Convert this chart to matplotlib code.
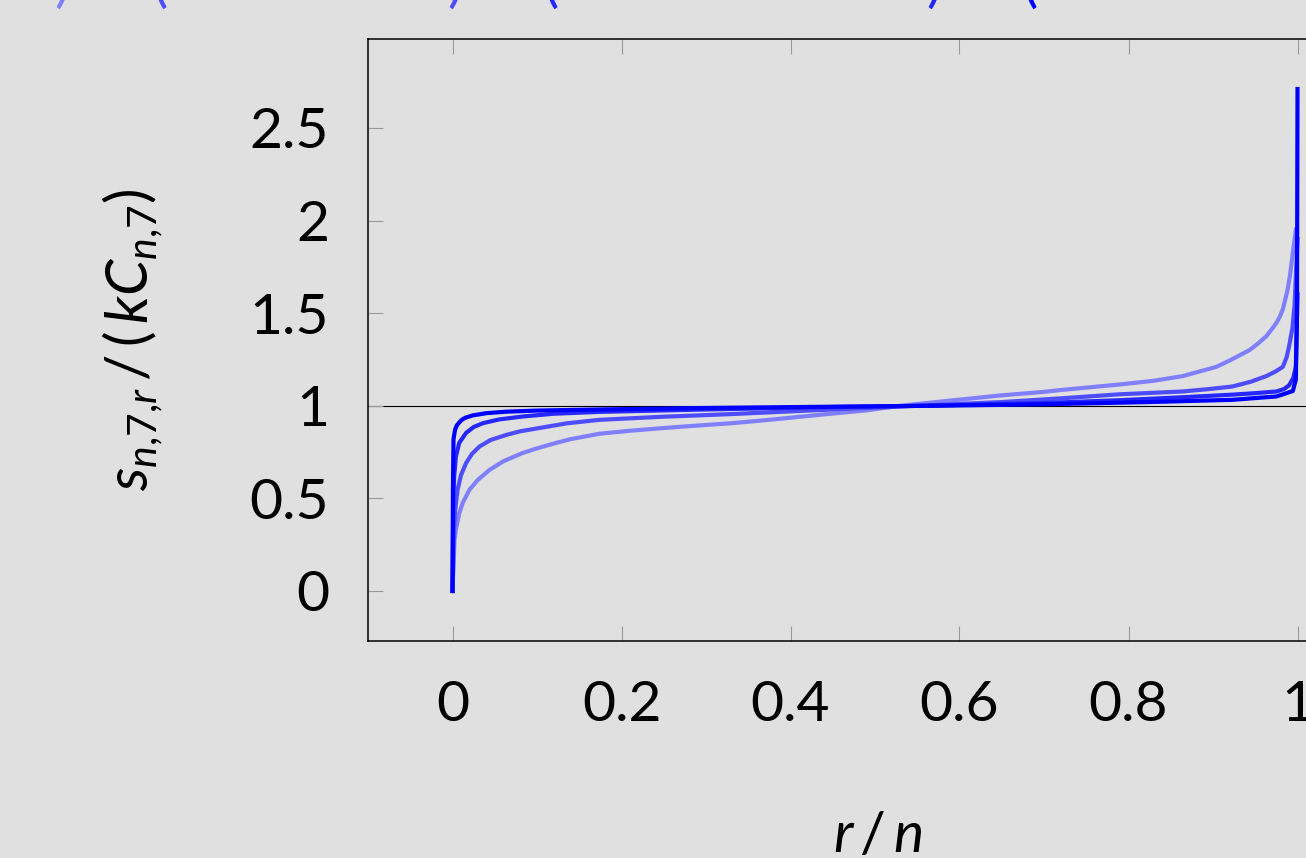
import matplotlib
matplotlib.use("Agg")
import matplotlib.pyplot as plt

plt.rcParams['font.family'] = ['Lato', 'DejaVu Sans']
plt.rcParams['mathtext.fontset'] = 'custom'
plt.rcParams['mathtext.rm'] = 'Lato'
plt.rcParams['mathtext.it'] = 'Lato:italic'

# curves, lightest to darkest
x1 = [0.0, 0.0024, 0.004, 0.008, 0.012, 0.02, 0.03, 0.044, 0.06, 0.083, 0.1, 0.123, 0.14,
      0.174, 0.21, 0.245, 0.28, 0.331, 0.37, 0.41, 0.45, 0.49, 0.53, 0.6, 0.647, 0.7,
      0.72, 0.79, 0.83, 0.864, 0.88, 0.904, 0.92, 0.943, 0.953, 0.963, 0.969, 0.975,
      0.979, 0.9826, 0.988, 0.991, 0.9945, 0.998]
y1 = [0.0, 0.276, 0.33, 0.42, 0.475, 0.546, 0.6, 0.654, 0.7, 0.745, 0.77, 0.8, 0.82,
      0.849, 0.865, 0.878, 0.89, 0.906, 0.922, 0.94, 0.958, 0.975, 1.0, 1.033, 1.055, 1.075,
      1.085, 1.115, 1.135, 1.16, 1.18, 1.21, 1.245, 1.30, 1.335, 1.375, 1.41, 1.447,
      1.48, 1.52, 1.62, 1.7, 1.825, 1.95]

x2 = [0.0, 0.002, 0.003, 0.006, 0.01, 0.016, 0.023, 0.032, 0.045, 0.064, 0.08, 0.103,
      0.135, 0.174, 0.245, 0.33, 0.45, 0.55, 0.65, 0.72, 0.79, 0.864, 0.895, 0.923, 0.945,
      0.963, 0.974, 0.9826, 0.987, 0.99, 0.994, 0.9965, 1.0]
y2 = [0.0, 0.35, 0.43, 0.546, 0.625, 0.69, 0.74, 0.78, 0.815, 0.843, 0.862, 0.88,
      0.905, 0.924, 0.94, 0.955, 0.98, 1.0, 1.02, 1.04, 1.062, 1.077, 1.09, 1.104, 1.13,
      1.16, 1.185, 1.21, 1.26, 1.32, 1.42, 1.54, 1.9]

x3 = [0.0, 0.001, 0.002, 0.004, 0.008, 0.016, 0.025, 0.036, 0.055, 0.083, 0.12, 0.174,
      0.3, 0.45, 0.56, 0.7, 0.79, 0.86, 0.923, 0.95, 0.975, 0.984, 0.99, 0.995, 0.998, 1.0]
y3 = [0.0, 0.5, 0.62, 0.726, 0.8, 0.853, 0.885, 0.906, 0.926, 0.942, 0.957, 0.967,
      0.98, 0.993, 1.0, 1.015, 1.03, 1.045, 1.06, 1.068, 1.077, 1.09, 1.11, 1.15, 1.21, 1.6]

x4 = [0.0, 0.0005, 0.0012, 0.003, 0.005, 0.008, 0.011, 0.015, 0.024, 0.04, 0.064, 0.1,
      0.174, 0.3, 0.45, 0.57, 0.7, 0.825, 0.923, 0.96, 0.975, 0.985, 0.9945, 0.998,
      0.9994, 1.0]
y4 = [0.0, 0.55, 0.82, 0.87, 0.893, 0.91, 0.924, 0.935, 0.948, 0.96, 0.968, 0.974,
      0.98, 0.988, 0.995, 1.0, 1.008, 1.02, 1.032, 1.045, 1.05, 1.065, 1.08, 1.14,
      1.5, 2.71]

xs = [x1, x2, x3, x4]
ys = [y1, y2, y3, y4]
colors = ['#8080ff', '#4d4dff', '#2626ff', '#0000ff']

xticks = [0, 0.2, 0.4, 0.6, 0.8, 1]
xticklabels = ['0', '0.2', '0.4', '0.6', '0.8', '1']
yticks = [0, 0.5, 1, 1.5, 2, 2.5]
yticklabels = ['0', '0.5', '1', '1.5', '2', '2.5']

bg = '#e0e0e0'
fig = plt.figure(figsize=(13.06, 8.58), dpi=100, facecolor=bg)
ax = fig.add_axes([368 / 1306, 1 - 641 / 858, 1014 / 1306, 602 / 858], facecolor=bg)

ax.axhline(1, color='black', lw=0.8, zorder=1)
for x, y, c in zip(xs, ys, colors):
    ax.plot(x, y, color=c, lw=3.0, zorder=2, solid_joinstyle='round')

ax.set_xlim(-0.1, 1.1)
ax.set_ylim(-0.27, 2.98)
ax.set_xticks(xticks)
ax.set_xticklabels(xticklabels)
ax.set_yticks(yticks)
ax.set_yticklabels(yticklabels)
ax.tick_params(direction='in', length=11, width=0.8, color='#999999', labelsize=41,
               top=True, right=True, pad=28)
for s in ax.spines.values():
    s.set_linewidth(1.1)

ax.set_xlabel('$r\\,/\\,n$', fontsize=41, va='baseline')
ax.xaxis.set_label_coords(0.503, -0.35)
ax.set_ylabel('$s_{n{,}7{,}r}\\,/\\,(\\,kC_{n{,}7})$', fontsize=42, va='center')
ax.yaxis.set_label_coords(-0.232, 0.5)

# remnants of the legend cut off at the top
for px, ch, c in [(62, ')', colors[0]), (160, '(', colors[1]), (455, ')', colors[1]),
                  (551, '(', colors[2]), (934, ')', colors[2]), (1030, '(', colors[3])]:
    fig.text(px / 1306, 1 - 11 / 858, ch, color=c, fontsize=41, ha='center', va='bottom')

fig.savefig('out.png', dpi=100, facecolor=bg)
